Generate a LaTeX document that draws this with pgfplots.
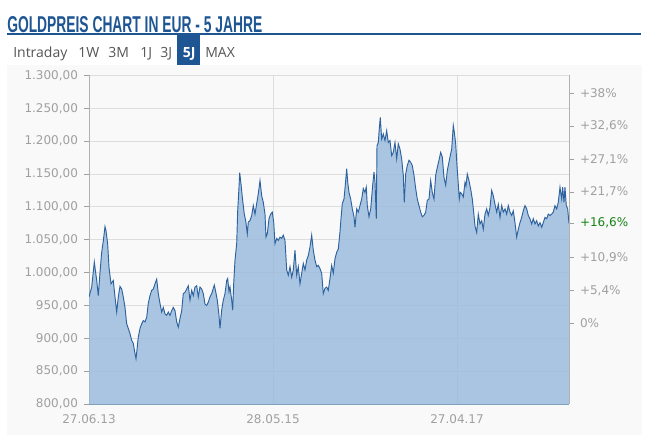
\documentclass[border=0pt]{standalone}
\usepackage{fontspec}
\setmainfont{DejaVu Sans}
\newfontfamily\tabfont{Open Sans}
\newfontfamily\titlefont{Liberation Sans}
\usepackage{pgfplots}
\pgfplotsset{compat=1.18}
\usepackage{pgfplotstable}

\definecolor{bg}{RGB}{249,249,249}
\definecolor{gridc}{RGB}{221,221,221}
\definecolor{tickc}{RGB}{160,160,160}
\definecolor{areac}{RGB}{150,185,219}
\definecolor{linec}{RGB}{46,98,158}
\definecolor{titlec}{RGB}{30,86,148}
\definecolor{tabc}{RGB}{85,85,85}
\definecolor{nowc}{RGB}{20,130,20}

% p = horizontal position on the chart (px), v = price in EUR
\pgfplotstableread{
p v
89.0 963
91.7 978
94.3 1016
96.7 988
98.3 965
100.0 1000
101.7 1031
103.3 1048
105.0 1070
106.0 1064
107.7 1043
109.0 1008
111.0 983
113.3 988
115.0 963
116.7 940
118.3 963
120.0 979
121.7 975
123.3 963
125.0 947
126.7 922
128.3 915
130.0 907
131.7 897
133.3 892
135.0 877
136.0 869
137.3 887
138.3 902
140.0 915
141.7 922
143.3 927
145.0 925
146.7 932
148.3 953
150.0 965
151.7 973
153.3 975
155.0 983
156.7 990
158.3 968
160.0 953
161.7 940
163.3 947
165.0 937
166.7 935
168.3 940
170.0 935
171.7 942
173.3 947
175.0 942
176.7 925
178.3 917
180.0 930
181.7 942
183.3 968
185.0 970
186.7 975
188.3 980
190.0 958
191.7 973
193.3 965
195.0 978
196.7 980
198.3 963
200.0 978
201.7 975
203.3 968
205.0 952
206.7 950
208.3 955
210.0 963
211.7 968
213.3 976
214.3 981
215.7 971
217.3 958
219.0 935
220.0 915
221.7 943
223.3 958
225.0 968
226.7 988
227.7 991
229.0 971
230.0 978
231.7 958
232.7 943
233.7 983
235.0 1019
236.7 1044
237.7 1094
239.0 1130
239.7 1152
241.0 1135
242.3 1115
244.3 1089
245.7 1079
247.3 1059
248.3 1077
250.0 1079
251.7 1087
253.3 1102
255.0 1089
256.7 1105
258.3 1120
260.0 1140
261.7 1117
263.3 1107
265.0 1089
266.0 1054
267.3 1059
269.0 1082
270.7 1089
272.3 1092
273.7 1077
275.0 1044
276.7 1052
278.3 1049
280.0 1054
281.7 1052
283.3 1057
285.0 1049
286.7 1004
288.3 996
290.0 1009
291.7 993
293.3 1004
295.0 1034
296.7 996
298.3 1009
300.0 983
301.7 999
303.3 1014
305.0 1004
306.7 1019
308.3 1026
310.0 1039
311.7 1057
313.3 1034
315.0 1019
316.7 1009
318.3 1011
320.0 1006
321.7 999
323.3 968
325.0 976
326.7 978
328.3 973
330.0 991
331.7 1011
333.3 999
335.0 1021
336.7 1031
338.3 1036
340.0 1062
341.0 1082
342.3 1105
344.0 1112
345.0 1128
346.7 1158
347.7 1138
349.0 1122
350.7 1112
352.3 1097
354.0 1085
355.0 1069
356.7 1097
358.3 1092
360.0 1102
361.7 1112
363.3 1128
365.0 1122
366.3 1130
367.3 1102
369.0 1085
370.7 1097
372.7 1133
374.0 1153
375.0 1138
376.3 1082
377.0 1193
378.3 1198
379.3 1219
380.3 1236
381.7 1203
383.3 1211
385.0 1201
386.7 1216
388.3 1198
390.0 1201
391.7 1178
393.3 1183
395.0 1198
396.7 1173
398.3 1196
400.0 1188
401.7 1173
403.3 1148
404.3 1107
405.7 1150
407.3 1163
409.0 1171
410.7 1168
412.3 1163
414.0 1148
415.7 1128
417.3 1112
419.0 1102
420.7 1092
422.3 1085
424.0 1087
425.7 1092
427.3 1110
429.0 1112
430.7 1140
432.3 1122
434.0 1112
435.7 1148
437.3 1160
439.0 1171
440.7 1183
442.3 1176
444.0 1145
445.7 1133
447.3 1155
448.3 1163
450.0 1176
451.7 1188
453.3 1224
454.3 1214
455.7 1196
457.0 1163
458.3 1135
459.3 1112
460.3 1122
461.7 1120
463.3 1115
465.0 1137
466.0 1132
467.3 1150
469.0 1140
470.7 1127
472.3 1112
473.7 1092
475.0 1071
476.7 1061
478.3 1089
480.0 1074
481.7 1079
483.3 1066
485.0 1089
486.7 1097
488.3 1087
490.0 1099
491.7 1125
493.3 1117
495.0 1104
496.7 1092
498.3 1104
500.0 1084
501.7 1102
503.3 1092
505.0 1097
506.7 1089
508.3 1102
510.0 1092
511.7 1087
513.3 1094
515.0 1076
516.7 1054
518.3 1066
520.0 1076
521.7 1084
523.3 1094
525.0 1102
526.7 1097
528.3 1087
530.0 1082
531.7 1074
533.3 1082
535.0 1074
536.7 1079
538.3 1071
540.0 1076
541.7 1069
543.3 1076
545.0 1084
546.7 1082
548.3 1089
550.0 1087
551.7 1089
553.3 1092
555.0 1102
556.7 1097
558.3 1107
560.0 1130
561.7 1112
562.7 1130
564.0 1107
565.0 1130
566.3 1102
567.7 1097
569.0 1075
}\gold

\begin{document}
\begin{tikzpicture}[x=0.75pt,y=0.75pt]
\path (0,0) rectangle (656,444);
\fill[bg] (7,9) rectangle (642,379);

% title and rule
\node[anchor=base west, inner sep=0, text=titlec] at (7,411.7)
  {\resizebox{191.25pt}{12pt}{\titlefont\bfseries GOLDPREIS CHART IN EUR - 5 JAHRE}};
\draw[titlec, line width=1.5pt] (7,409.7) -- (641,409.7);

% period tabs
\fill[titlec] (177,379) rectangle (200,409);
\begin{scope}[every node/.style={anchor=base west, inner sep=0, text=tabc,
    font=\tabfont\fontsize{10.5}{12}\selectfont}]
\node at (13,386.3) {Intraday};
\node at (78,386.3) {1W};
\node at (108,386.3) {3M};
\node at (140,386.3) {1J};
\node at (160,386.3) {3J};
\node[text=white, font=\tabfont\bfseries\fontsize{10.5}{12}\selectfont] at (182.5,386.3) {5J};
\node at (205,386.3) {MAX};
\end{scope}

\begin{axis}[
  at={(66.75pt,30pt)}, anchor=south west,
  width=360pt, height=246.4pt, scale only axis,
  xmin=0, xmax=1826, ymin=800, ymax=1300,
  axis y line*=left, axis x line*=bottom,
  y axis line style={draw=gridc!80!black, line width=0.6pt, -},
  x axis line style={draw=areac!85!black, line width=0.6pt, -},
  xtick={0,700,1400},
  xticklabels={27.06.13,28.05.15,27.04.17},
  xtick style={draw=none},
  ytick={800,850,...,1300},
  ytick style={draw=tickc, line width=0.6pt},
  tick align=outside,
  major tick length=3.75pt,
  grid=major,
  major grid style={draw=gridc, line width=0.6pt},
  /pgf/number format/assume math mode=true,
  /pgf/number format/.cd, fixed, fixed zerofill, precision=2, use comma, 1000 sep={.},
  /pgfplots/.cd,
  ticklabel style={font=\fontsize{9}{10}\selectfont, text=tickc},
  yticklabel style={xshift=-1pt},
  xticklabel style={yshift=-1pt},
]
\addplot[draw=none, fill=areac, fill opacity=0.8]
  table[x expr={(\thisrow{p}-89)*3.804}, y=v] {\gold} \closedcycle;
\addplot[draw=linec, line width=0.7pt]
  table[x expr={(\thisrow{p}-89)*3.804}, y=v] {\gold};
\end{axis}

% right scale: change since start (base about 922.5 EUR)
\begin{axis}[
  at={(66.75pt,30pt)}, anchor=south west,
  width=360pt, height=246.4pt, scale only axis,
  xmin=0, xmax=1826, ymin=800, ymax=1300,
  axis y line*=right, axis x line=none,
  y axis line style={draw=gridc!80!black, line width=0.6pt, -},
  ytick={922.5,972.3,1023.1,1075.6,1122.7,1172.5,1223.2,1273.1},
  yticklabels={{0\%},{+5,4\%},{+10,9\%},{\textcolor{nowc}{+16,6\%}},{+21,7\%},{+27,1\%},{+32,6\%},{+38\%}},
  ytick style={draw=tickc, line width=0.6pt},
  tick align=outside,
  major tick length=3.75pt,
  yticklabel style={font=\fontsize{9}{10}\selectfont, text=tickc, xshift=1pt},
]
\end{axis}
\end{tikzpicture}
\end{document}
